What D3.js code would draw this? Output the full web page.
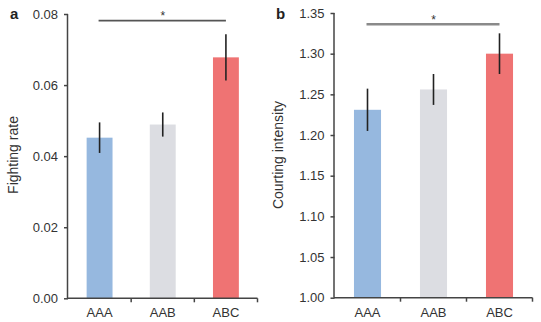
<!DOCTYPE html>
<html>
<head>
<meta charset="utf-8">
<script src="https://cdn.jsdelivr.net/npm/d3@7"></script>
<style>
  body { margin: 0; background: #fff; }
  svg { display: block; font-family: "Liberation Sans", Arial, sans-serif; }
</style>
</head>
<body>
<script>
// data
const categories = ["AAA", "AAB", "ABC"]
const barColors = ["#96b8df", "#dcdde2", "#ef7373"]

const fightMean = [0.0452, 0.0489, 0.0678]
const fightErr = [0.0043, 0.0034, 0.0065]
const fightTicks = [0, 0.02, 0.04, 0.06, 0.08]

const courtMean = [1.231, 1.256, 1.300]
const courtErr = [0.026, 0.019, 0.025]
const courtTicks = [1.00, 1.05, 1.10, 1.15, 1.20, 1.25, 1.30, 1.35]

const svg = d3.select("body").append("svg")
    .attr("width", 541)
    .attr("height", 322)

function drawPanel(opt){
    const g = svg.append("g")

    const x = d3.scaleBand().domain(categories).range([opt.x0, opt.x1]).padding(0)
    const y = d3.scaleLinear().domain(opt.domain).range([opt.yBottom, opt.yTop])
    const bw = x.bandwidth() * 0.41

    // bars
    g.selectAll("rect.bar")
        .data(opt.means)
        .enter()
        .append("rect")
        .attr("class", "bar")
        .attr("x", (d, i) => x(categories[i]) + x.bandwidth() / 2 - bw / 2)
        .attr("width", bw)
        .attr("y", d => y(d))
        .attr("height", d => y(opt.domain[0]) - y(d))
        .attr("fill", (d, i) => barColors[i])

    // error bars
    g.selectAll("line.err")
        .data(opt.means)
        .enter()
        .append("line")
        .attr("class", "err")
        .attr("x1", (d, i) => x(categories[i]) + x.bandwidth() / 2)
        .attr("x2", (d, i) => x(categories[i]) + x.bandwidth() / 2)
        .attr("y1", (d, i) => y(d - opt.errs[i]))
        .attr("y2", (d, i) => y(d + opt.errs[i]))
        .attr("stroke", "#222")
        .attr("stroke-width", 1.6)

    // y axis
    const yAxis = g.append("g")
        .attr("transform", `translate(${opt.x0},0)`)
        .call(d3.axisLeft(y).tickValues(opt.ticks).tickFormat(d3.format(opt.fmt)).tickSize(4).tickPadding(6))
    yAxis.select(".domain").attr("d", `M-0.5,${opt.yTop}V${opt.yBottom}`)

    // x axis: ticks between categories
    const xAxis = g.append("g")
        .attr("transform", `translate(0,${opt.yBottom})`)
    xAxis.append("line")
        .attr("x1", opt.x0 - 0.5).attr("x2", opt.x1)
        .attr("y1", 0).attr("y2", 0)
    xAxis.selectAll("line.xt")
        .data(categories.slice(1).concat(["end"]))
        .enter()
        .append("line")
        .attr("class", "xt")
        .attr("x1", (d, i) => x(categories[i]) + x.bandwidth())
        .attr("x2", (d, i) => x(categories[i]) + x.bandwidth())
        .attr("y1", 0).attr("y2", 4)
    xAxis.selectAll("text")
        .data(categories)
        .enter()
        .append("text")
        .attr("x", d => x(d) + x.bandwidth() / 2)
        .attr("y", 19)
        .attr("text-anchor", "middle")
        .attr("font-size", 13)
        .attr("fill", "#333")
        .text(d => d)

    g.selectAll(".domain, .tick line, line.xt")
        .attr("stroke", "#444").attr("stroke-width", 1.5)
    xAxis.select("line").attr("stroke", "#444").attr("stroke-width", 1.5)
    yAxis.selectAll(".tick text").attr("font-size", 13).attr("fill", "#333")
        .attr("font-family", "Liberation Sans, Arial, sans-serif")

    // axis title
    g.append("text")
        .attr("transform", `translate(${opt.labelX},155) rotate(-90)`)
        .attr("text-anchor", "middle")
        .attr("font-size", 14)
        .attr("fill", "#333")
        .text(opt.label)

    // panel letter
    g.append("text")
        .attr("x", opt.letterX).attr("y", 19)
        .attr("font-size", 15)
        .attr("font-weight", "bold")
        .attr("fill", "#222")
        .text(opt.letter)

    // significance bar
    const cA = x(categories[0]) + x.bandwidth() / 2
    const cC = x(categories[2]) + x.bandwidth() / 2
    g.append("line")
        .attr("x1", cA - 1).attr("x2", cC)
        .attr("y1", opt.sigY).attr("y2", opt.sigY)
        .attr("stroke", opt.sigColor)
        .attr("stroke-width", opt.sigWidth)
    g.append("text")
        .attr("x", (cA + cC) / 2).attr("y", opt.sigY - 0.5)
        .attr("text-anchor", "middle")
        .attr("font-size", 12)
        .attr("fill", "#333")
        .text("*")
}

drawPanel({
    x0: 68, x1: 257.5, yTop: 14, yBottom: 298.3,
    domain: [0, 0.08], ticks: fightTicks, fmt: ".2f",
    means: fightMean, errs: fightErr,
    label: "Fighting rate", labelX: 18, letter: "a", letterX: 10,
    sigY: 20.7, sigColor: "#555", sigWidth: 1.8
})

drawPanel({
    x0: 334.5, x1: 532.5, yTop: 13, yBottom: 297.7,
    domain: [1.0, 1.35], ticks: courtTicks, fmt: ".2f",
    means: courtMean, errs: courtErr,
    label: "Courting intensity", labelX: 283, letter: "b", letterX: 276,
    sigY: 24.3, sigColor: "#8a8a8a", sigWidth: 2.5
})
</script>
</body>
</html>
